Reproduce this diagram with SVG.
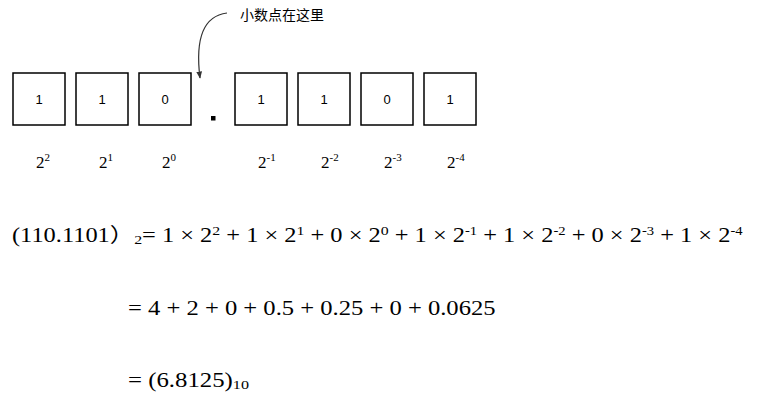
<svg xmlns="http://www.w3.org/2000/svg" width="759" height="396" viewBox="0 0 759 396">
<defs>
<style>
.box{fill:#fff;stroke:#000;stroke-width:1.5}
.bl{font-family:"Liberation Sans",Arial,sans-serif;font-size:13px;text-anchor:middle;fill:#000}
.pw{font-family:"Liberation Serif","Times New Roman",serif;font-size:17px;fill:#000}
.sp{font-size:11px}
.eq{font-family:"Liberation Serif","Times New Roman","Noto Sans CJK SC",serif;font-size:20px;fill:#000}
.es{font-size:13px}
.en{font-size:12px}
.note{font-family:"Noto Sans CJK SC","Noto Sans",sans-serif;font-size:14px;fill:#000}
</style>
<marker id="ah" viewBox="0 0 10 10" refX="9" refY="5" markerWidth="6" markerHeight="6" orient="auto-start-reverse">
<path d="M0,1 L10,5 L0,9 Z" fill="#333"/>
</marker>
</defs>
<rect width="759" height="396" fill="#fff"/>
<g id="b1"><rect class="box" x="13" y="73" width="52" height="52"/><text class="bl" x="39" y="104">1</text></g>
<g id="b2"><rect class="box" x="76" y="73" width="52" height="52"/><text class="bl" x="102" y="104">1</text></g>
<g id="b3"><rect class="box" x="139" y="73" width="52" height="52"/><text class="bl" x="165" y="104">0</text></g>
<g id="dot"><rect x="211" y="116" width="4.5" height="4.5" fill="#000"/></g>
<g id="b4"><rect class="box" x="235" y="73" width="52" height="52"/><text class="bl" x="261" y="104">1</text></g>
<g id="b5"><rect class="box" x="298" y="73" width="52" height="52"/><text class="bl" x="324" y="104">1</text></g>
<g id="b6"><rect class="box" x="361" y="73" width="52" height="52"/><text class="bl" x="387" y="104">0</text></g>
<g id="b7"><rect class="box" x="424" y="73" width="52" height="52"/><text class="bl" x="450" y="104">1</text></g>
<g id="note"><text class="note" x="240" y="20">小数点在这里</text></g>
<g id="connectors">
<path d="M227,13 C203,16 195,38 200,78" fill="none" stroke="#333" stroke-width="1.2" marker-end="url(#ah)"/>
</g>
<g id="powers">
<text class="pw" x="36" y="168">2<tspan class="sp" dy="-7">2</tspan></text>
<text class="pw" x="99" y="168">2<tspan class="sp" dy="-7">1</tspan></text>
<text class="pw" x="162" y="168">2<tspan class="sp" dy="-7">0</tspan></text>
<text class="pw" x="258" y="168">2<tspan class="sp" dy="-7">-1</tspan></text>
<text class="pw" x="321" y="168">2<tspan class="sp" dy="-7">-2</tspan></text>
<text class="pw" x="384" y="168">2<tspan class="sp" dy="-7">-3</tspan></text>
<text class="pw" x="447" y="168">2<tspan class="sp" dy="-7">-4</tspan></text>
</g>
<g id="equations">
<text class="eq" transform="translate(12,242) scale(1.22,1)" x="0" y="0">(110.1101）<tspan class="es" dy="2">2</tspan><tspan dy="-2">= 1 × 2</tspan><tspan class="es" dy="-7">2</tspan><tspan dy="7"> + 1 × 2</tspan><tspan class="es" dy="-7">1</tspan><tspan dy="7"> + 0 × 2</tspan><tspan class="es" dy="-7">0</tspan><tspan dy="7"> + 1 × 2</tspan><tspan class="en" dy="-7">-1</tspan><tspan dy="7"> + 1 × 2</tspan><tspan class="en" dy="-7">-2</tspan><tspan dy="7"> + 0 × 2</tspan><tspan class="en" dy="-7">-3</tspan><tspan dy="7"> + 1 × 2</tspan><tspan class="en" dy="-7">-4</tspan></text>
<text class="eq" transform="translate(128,315) scale(1.23,1)" x="0" y="0">= 4 + 2 + 0 + 0.5 + 0.25 + 0 + 0.0625</text>
<text class="eq" transform="translate(128,387) scale(1.24,1)" x="0" y="0">= (6.8125)<tspan class="es" dy="2">10</tspan></text>
</g>
</svg>
